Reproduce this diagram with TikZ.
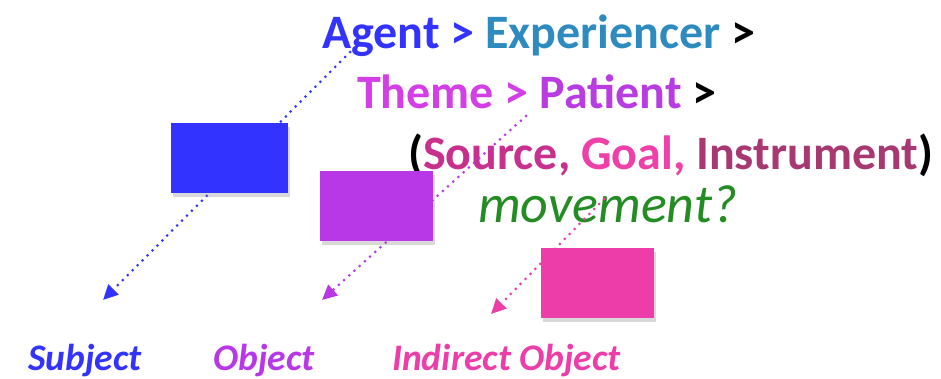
\documentclass[tikz,border=0pt]{standalone}
\usepackage{fontspec}
\setmainfont{Carlito}
\usetikzlibrary{positioning,arrows.meta,shadows}
\definecolor{agentblue}{HTML}{3333FF}
\definecolor{expteal}{HTML}{2E8BBF}
\definecolor{thememag}{HTML}{D43EE6}
\definecolor{patpurple}{HTML}{B83CE2}
\definecolor{srcpink}{HTML}{C8308E}
\definecolor{goalpink}{HTML}{EE40A8}
\definecolor{instplum}{HTML}{A83872}
\definecolor{movegreen}{HTML}{238C23}
\definecolor{objpurple}{HTML}{B838E8}
\definecolor{iobjpink}{HTML}{EC3DA8}

\begin{document}
\begin{tikzpicture}[
  x=1pt, y=-1pt,
  role/.style={anchor=base west, inner sep=0pt, font=\fontsize{48}{52}\selectfont\bfseries},
  gf/.style={anchor=base west, inner sep=0pt, font=\fontsize{37.5}{40}\selectfont\bfseries\itshape},
  slot/.style={inner sep=0pt, minimum width=113pt, minimum height=70pt,
    drop shadow={shadow xshift=2pt, shadow yshift=-4pt, opacity=0.3, fill=gray}},
  link/.style={line width=3pt, line cap=round, dash pattern=on 0pt off 7pt,
    -{Triangle[length=15pt,width=14pt,line cap=butt]}}
]
\useasboundingbox (0,0) rectangle (941,378);

% hierarchy of roles
\node[role] (line1) at (322,48) {\textcolor{agentblue}{Agent >} \textcolor{expteal}{Experiencer} >};
\node[role] (line2) at (357,108) {\textcolor{thememag}{Theme >} \textcolor{patpurple}{Patient} >};
\node[role] (line3) at (408,169) {(\textcolor{srcpink}{Source,} \textcolor{goalpink}{Goal,} \textcolor{instplum}{Instrument})};
\node[role, font=\fontsize{54}{58}\selectfont\itshape, text=movegreen] (move) at (478,222) {movement?};

% grammatical functions
\node[gf, text=agentblue] (subj) at (28,370) {Subject};
\node[gf, text=objpurple] (obj) at (213,370) {Object};
\node[gf, text=iobjpink] (iobj) at (392,370) {Indirect Object};

\coordinate (agentfoot) at (350,52);
\coordinate (patfoot) at (526,116);
\coordinate (movefoot) at (604,199);
\coordinate (subjtip) at (103,300);
\coordinate (objtip) at (322,300);
\coordinate (iobjtip) at (491,314);

\draw[link, agentblue] (agentfoot) -- (subjtip);
\draw[link, objpurple] (patfoot) -- (objtip);
\draw[link, iobjpink] (movefoot) -- (iobjtip);

% argument slots
\node[slot, fill=agentblue, minimum width=117pt] (subjbox) at (229.5,158) {};
\node[slot, fill=objpurple] (objbox) at (376,206) {};
\node[slot, fill=iobjpink] (iobjbox) at (597,282.5) {};
\end{tikzpicture}
\end{document}
